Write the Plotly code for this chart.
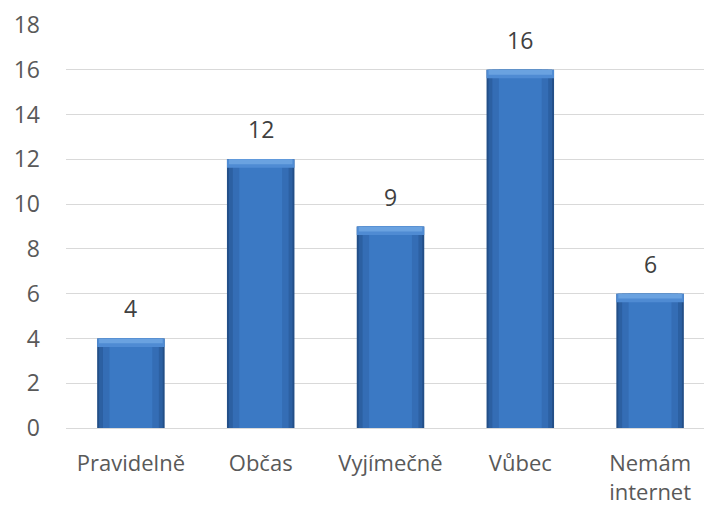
import plotly.graph_objects as go

categories = ["Pravidelně", "Občas", "Vyjímečně", "Vůbec", "Nemám<br>internet"]
values = [4, 12, 9, 16, 6]
y_ticks = [0, 2, 4, 6, 8, 10, 12, 14, 16, 18]

FONT = "Open Sans"
TXT = "#595959"
FS = 23

fig = go.Figure()
# layered bars to mimic the bevelled gradient look
layers = [
    (0.52, "#234f88"),
    (0.49, "#2c60a2"),
    (0.43, "#346db5"),
    (0.33, "#3b79c4"),
]
for w, c in layers:
    fig.add_trace(go.Bar(
        x=categories, y=values, width=w,
        marker=dict(color=c, line=dict(width=0)),
        hoverinfo="skip", showlegend=False,
    ))
# top bevel highlight
for cap, col, w in [(0.38, "#4f8bd3", 0.52), (0.22, "#6aa2e0", 0.49)]:
    fig.add_trace(go.Bar(
        x=categories, y=[cap] * len(values), base=[v - cap for v in values], width=w,
        marker=dict(color=col, line=dict(width=0)),
        hoverinfo="skip", showlegend=False,
    ))

# value labels
for c, v in zip(categories, values):
    fig.add_annotation(x=c, y=v, text=str(v), showarrow=False, yanchor="bottom",
                       yshift=12, font=dict(family=FONT, size=FS, color="#404040"))

fig.update_layout(
    width=712, height=500,
    margin=dict(l=58, r=5, t=17, b=80, autoexpand=False),
    barmode="overlay",
    plot_bgcolor="white", paper_bgcolor="white",
    font=dict(family=FONT, size=FS, color=TXT),
    xaxis=dict(showgrid=False, showline=True, linecolor="#d9d9d9", linewidth=1,
               ticks="", tickfont=dict(family=FONT, size=22, color=TXT),
               ticklabelstandoff=16, automargin=False),
    yaxis=dict(range=[0, 18], tickvals=y_ticks, showgrid=True, gridcolor="#d9d9d9",
               gridwidth=1, zeroline=False, showline=False, ticks="",
               tickfont=dict(family=FONT, size=FS, color=TXT), ticklabelstandoff=25,
               automargin=False),
)
fig.write_html("out.html")
